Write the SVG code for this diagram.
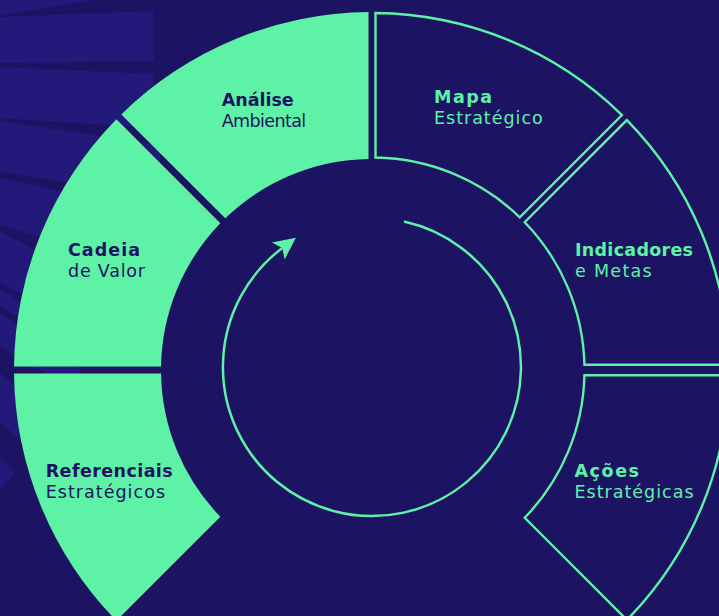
<svg xmlns="http://www.w3.org/2000/svg" width="719" height="616" viewBox="0 0 719 616">
  <defs>
    <style>
      .band { fill:#22197A; }
      .seg-fill { fill:#5EF2A6; }
      .seg-out { fill:none; stroke:#5EF2A6; stroke-width:2.4; stroke-linejoin:miter; }
      .t { font-family:"DejaVu Sans","Liberation Sans",sans-serif; font-size:17.5px; }
      .b { font-weight:bold; }
      .dk { fill:#1C1462; }
      .gr { fill:#5EF2A6; }
      .conn { fill:none; stroke:#5EF2A6; stroke-width:2.5; }
    </style>
    <marker id="arrow" markerUnits="userSpaceOnUse" viewBox="-6 -12 24 24" markerWidth="24" markerHeight="24" refX="0" refY="0" orient="auto" overflow="visible">
      <path d="M17,0 L-5,-10.5 L0,0 L-5,10.5 Z" fill="#5EF2A6"/>
    </marker>
  </defs>

  <g id="background">
    <rect x="0" y="0" width="719" height="616" fill="#1C1462"/>
    <polygon class="band" points="0,0 95,0 0,15"/>
    <polygon class="band" points="0,17 153,11 154,61 0,63"/>
    <polygon class="band" points="0,67 154,74 154,128 0,118"/>
    <polygon class="band" points="0,121 160,145 160,196 0,172"/>
    <polygon class="band" points="0,178 160,212 160,273 0,225"/>
    <polygon class="band" points="0,232 130,297 130,348 0,283"/>
    <polygon class="band" points="0,289 90,343 90,360 0,306"/>
    <polygon class="band" points="0,313 80,370 80,393 0,347"/>
    <polygon class="band" points="0,373 100,453 100,503 0,423"/>
    <polygon class="band" points="0,457 15,472 0,490"/>
  </g>

  <g id="analise-ambiental">
    <path class="seg-fill" d="M368.5,12.02 A358,358 0 0 0 121.33,114.39 L225.27,218.33 A211,211 0 0 1 368.5,159.03 Z"/>
    <text class="t b dk" x="221.7" y="106" textLength="72" lengthAdjust="spacing">Análise</text>
    <text class="t dk" x="221.7" y="127" textLength="84.5" lengthAdjust="spacing">Ambiental</text>
  </g>

  <g id="cadeia-de-valor">
    <path class="seg-fill" d="M116.39,119.33 A358,358 0 0 0 14.02,366.5 L161.03,366.5 A211,211 0 0 1 220.33,223.27 Z"/>
    <text class="t b dk" x="68" y="256" textLength="72" lengthAdjust="spacing">Cadeia</text>
    <text class="t dk" x="68" y="277" textLength="77" lengthAdjust="spacing">de Valor</text>
  </g>

  <g id="referenciais-estrategicos">
    <path class="seg-fill" d="M14.02,373.5 A358,358 0 0 0 116.39,620.67 L220.33,516.73 A211,211 0 0 1 161.03,373.5 Z"/>
    <text class="t b dk" x="45.7" y="476.5" textLength="127" lengthAdjust="spacing">Referenciais</text>
    <text class="t dk" x="45.7" y="497.5" textLength="119.3" lengthAdjust="spacing">Estratégicos</text>
  </g>

  <g id="mapa-estrategico">
    <path class="seg-out" d="M375.5,13.02 A357,357 0 0 1 621.95,115.11 L519.77,217.29 A212.5,212.5 0 0 0 375.5,157.53 Z"/>
    <text class="t b gr" x="434" y="103.3" textLength="58" lengthAdjust="spacing">Mapa</text>
    <text class="t gr" x="434" y="124" textLength="108.7" lengthAdjust="spacing">Estratégico</text>
  </g>

  <g id="indicadores-e-metas">
    <path class="seg-out" d="M626.89,120.05 A357,357 0 0 1 728.96,364.75 L584.44,364.75 A212.5,212.5 0 0 0 524.71,222.23 Z"/>
    <text class="t b gr" x="575" y="256" textLength="118" lengthAdjust="spacing">Indicadores</text>
    <text class="t gr" x="575" y="277" textLength="76.7" lengthAdjust="spacing">e Metas</text>
  </g>

  <g id="acoes-estrategicas">
    <path class="seg-out" d="M728.96,375.25 A357,357 0 0 1 626.89,619.95 L524.71,517.77 A212.5,212.5 0 0 0 584.44,375.25 Z"/>
    <text class="t b gr" x="574.5" y="476.5" textLength="64.5" lengthAdjust="spacing">Ações</text>
    <text class="t gr" x="574.5" y="497.5" textLength="119" lengthAdjust="spacing">Estratégicas</text>
  </g>

  <g id="connectors">
    <path class="conn" d="M404,221.5 A149,149 0 1 1 282.3,248" marker-end="url(#arrow)"/>
  </g>
</svg>
